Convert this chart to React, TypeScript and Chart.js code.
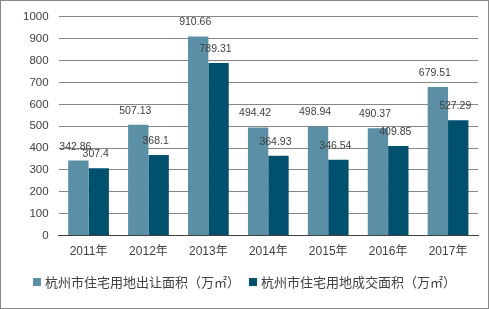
import React, { useEffect, useRef } from "react";
import { Chart, registerables } from "chart.js";
Chart.register(...registerables);

const categories = ["2011年", "2012年", "2013年", "2014年", "2015年", "2016年", "2017年"];
const seriesA = [342.86, 507.13, 910.66, 494.42, 498.94, 490.37, 679.51];
const seriesB = [307.4, 368.1, 789.31, 364.93, 346.54, 409.85, 527.29];
const seriesNames = ["杭州市住宅用地出让面积（万㎡）", "杭州市住宅用地成交面积（万㎡）"];
const colors = ["#5B8FA6", "#00506E"];

const FONT = "'Liberation Sans', 'Noto Sans CJK SC', sans-serif";
const CJK = "'Noto Sans CJK SC', sans-serif";

const labelPlugin = {
  id: "barLabels",
  afterDatasetsDraw(chart: any) {
    const ctx = chart.ctx;
    ctx.save();
    ctx.font = `10.5px ${FONT}`;
    ctx.fillStyle = "#404040";
    ctx.textAlign = "center";
    ctx.textBaseline = "middle";
    chart.data.datasets.forEach((ds: any, i: number) => {
      const meta = chart.getDatasetMeta(i);
      meta.data.forEach((bar: any, j: number) => {
        ctx.fillText(String(ds.data[j]), bar.x - 3, bar.y - 14);
      });
    });
    ctx.restore();
  },
};

export default function App() {
  const ref = useRef<HTMLCanvasElement>(null);
  useEffect(() => {
    document.body.style.margin = "0";
    const chart = new Chart(ref.current!, {
      type: "bar",
      data: {
        labels: categories,
        datasets: [
          { label: seriesNames[0], data: seriesA, backgroundColor: colors[0], barPercentage: 1, categoryPercentage: 0.68 },
          { label: seriesNames[1], data: seriesB, backgroundColor: colors[1], barPercentage: 1, categoryPercentage: 0.68 },
        ],
      },
      options: {
        responsive: false,
        animation: false,
        layout: { padding: { left: 13, right: 11, top: 10, bottom: 41 } },
        plugins: {
          tooltip: { enabled: false },
          legend: { display: false },
        },
        scales: {
          x: {
            grid: { display: false, drawTicks: false },
            border: { color: "#404040" },
            ticks: { font: { family: FONT, size: 12 }, color: "#404040", padding: 9 },
          },
          y: {
            min: 0,
            max: 1000,
            ticks: {
              stepSize: 100,
              font: { family: FONT, size: 11.5 },
              color: "#404040",
              padding: 10,
              callback: (v: any) => String(v),
            },
            grid: { color: "#868686", drawTicks: false },
            border: { display: false },
          },
        },
      },
      plugins: [labelPlugin],
    });
    return () => chart.destroy();
  }, []);
  const legendItem = (i: number, boxLeft: number) => (
    <div key={i} style={{ position: "absolute", left: boxLeft, top: 272, height: 20, display: "flex", alignItems: "center", whiteSpace: "nowrap" }}>
      <span style={{ display: "inline-block", width: 8, height: 8, background: colors[i], marginRight: 4 }} />
      <span style={{ font: `13px ${CJK}`, color: "#404040", lineHeight: "20px" }}>{seriesNames[i]}</span>
    </div>
  );
  return (
    <div style={{ position: "relative", width: 489, height: 309 }}>
      <canvas ref={ref} width={489} height={309} style={{ position: "absolute", left: 0, top: 0 }} />
      {legendItem(0, 33)}
      {legendItem(1, 249)}
      <div style={{ position: "absolute", left: 0, top: 0, width: 489, height: 309, boxSizing: "border-box", border: "1px solid #888" }} />
    </div>
  );
}
